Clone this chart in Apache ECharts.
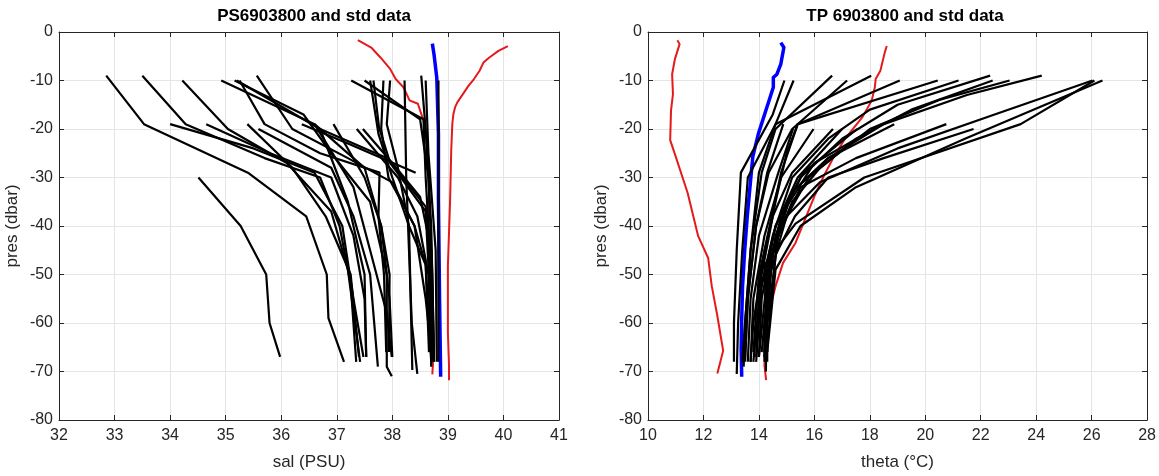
<!DOCTYPE html>
<html>
<head>
<meta charset="utf-8">
<script src="https://cdn.jsdelivr.net/npm/echarts@6/dist/echarts.min.js"></script>
<style>
  html, body { margin: 0; padding: 0; background: #fff; }
  #main { width: 1159px; height: 476px; }
</style>
</head>
<body>
<div id="main"></div>
<script>
// salinity panel: std envelope (red), mean (blue), float profiles (black)  [sal, pres]
const salStdLow = [[37.38,-1.7],[37.62,-3.2],[37.79,-5.3],[37.96,-7.6],[38.06,-9.7],[38.2,-11.4],[38.31,-14.1],[38.46,-14.8],[38.53,-17.2],[38.59,-18.9],[38.63,-24.4],[38.67,-31.2],[38.65,-38],[38.67,-48.3],[38.7,-58.5],[38.74,-66.7],[38.72,-70.6]];
const salStdHigh = [[40.08,-2.9],[39.91,-3.9],[39.74,-5.3],[39.64,-6.3],[39.57,-8],[39.47,-9.7],[39.37,-11.1],[39.27,-12.8],[39.17,-14.5],[39.13,-15.5],[39.1,-16.9],[39.08,-18.9],[39.06,-24.4],[39.04,-34.6],[39.0,-48.3],[39.0,-61.9],[39.02,-68.7],[39.02,-71.8]];
const salMean = [[38.72,-2.4],[38.75,-4.6],[38.8,-9.4],[38.83,-21],[38.83,-34.6],[38.85,-55.1],[38.87,-71.1]];
const salProfiles = [
  [[32.85,-9],[33.53,-19],[35.4,-29],[36.45,-38],[36.82,-50],[36.85,-59],[37.13,-68]],
  [[33.5,-9],[34.28,-19],[35.7,-26],[36.7,-30],[37.05,-40],[37.25,-52],[37.35,-68]],
  [[34.22,-10],[35.04,-20],[36.1,-27],[36.9,-37],[37.2,-49],[37.42,-68]],
  [[34.0,-19],[35.5,-24],[36.6,-29],[37.1,-40],[37.3,-55],[37.48,-67]],
  [[34.65,-19],[35.8,-25],[36.9,-30],[37.3,-42],[37.5,-55],[37.53,-67]],
  [[35.39,-19],[36.2,-28],[36.8,-38],[37.25,-50],[37.4,-67]],
  [[35.59,-20],[36.9,-28],[37.3,-38],[37.6,-50],[37.74,-69]],
  [[34.92,-10],[36.6,-19],[37.5,-28],[37.8,-40],[37.95,-55],[38.0,-67]],
  [[35.16,-10],[36.4,-17],[36.9,-25],[37.6,-35],[37.9,-50],[37.9,-69],[37.99,-71]],
  [[35.25,-10],[35.7,-19],[36.7,-25],[37.77,-29],[37.75,-38],[37.85,-50],[37.89,-66]],
  [[35.56,-9],[36.2,-20],[37.2,-26],[38.0,-31],[38.4,-40],[38.6,-48],[38.66,-66]],
  [[36.37,-19],[37.2,-23],[38.42,-29]],
  [[36.94,-19],[37.5,-30],[37.8,-40],[37.95,-50],[37.94,-66]],
  [[37.36,-20],[38.1,-30],[38.45,-38],[38.65,-50],[38.7,-67]],
  [[37.47,-20],[38.0,-27],[38.5,-34],[38.7,-45],[38.75,-68]],
  [[37.26,-10],[38.56,-18],[38.6,-30],[38.7,-50],[38.72,-67]],
  [[37.5,-10],[38.5,-18],[38.65,-30],[38.72,-50],[38.75,-68]],
  [[37.6,-10],[37.75,-21],[38.0,-30],[38.3,-40],[38.6,-48],[38.7,-68]],
  [[37.66,-10],[37.76,-19.6],[37.96,-27],[38.6,-37],[38.68,-55],[38.7,-69]],
  [[37.84,-10],[37.8,-20],[37.93,-30],[38.4,-40],[38.6,-55],[38.72,-68]],
  [[37.96,-10],[37.9,-19],[38.1,-28],[38.3,-40],[38.33,-55],[38.36,-69.7]],
  [[38.22,-10],[38.25,-30],[38.3,-45],[38.35,-60],[38.45,-70.5]],
  [[38.52,-9],[38.6,-20],[38.7,-40],[38.75,-67]],
  [[38.6,-10],[38.65,-25],[38.78,-45],[38.8,-68]],
  [[38.83,-10],[38.83,-40],[38.83,-68]],
  [[34.51,-30],[35.27,-40],[35.73,-50],[35.79,-60],[35.98,-67]],
  [[35.2,-10],[36.7,-20],[37.9,-26],[38.6,-36],[38.68,-50],[38.7,-67]],
  [[36.6,-19],[37.3,-32],[37.6,-45],[37.9,-58],[37.99,-67]],
  [[36.7,-20],[37.2,-35],[37.5,-50],[37.53,-67]]
];

// temperature panel  [theta, pres]
const thetaStdLow = [[11.06,-1.7],[11.14,-2.5],[10.97,-5.6],[10.87,-8.7],[10.9,-12.8],[10.83,-16.2],[10.8,-22.3],[11.0,-25.7],[11.43,-33.2],[11.81,-42.1],[12.17,-46.6],[12.3,-52.4],[12.5,-58.5],[12.71,-65.7],[12.61,-68],[12.5,-70.4]];
const thetaStdHigh = [[18.61,-2.9],[18.54,-4.2],[18.38,-8],[18.21,-9.7],[18.18,-11.4],[18.07,-14.1],[17.74,-17.5],[17.4,-19.9],[17.07,-22.3],[16.67,-26.1],[16.33,-29.8],[16.0,-33.9],[15.66,-38.7],[15.32,-43.5],[14.87,-47.6],[14.6,-52.4],[14.39,-57.1],[14.26,-61.9],[14.2,-68.7],[14.26,-71.8]];
const thetaMean = [[14.79,-2.2],[14.9,-3.2],[14.79,-6.6],[14.65,-8.7],[14.52,-9.4],[14.52,-11.4],[14.25,-16.2],[13.98,-21],[13.78,-25.7],[13.69,-31.2],[13.58,-38],[13.49,-44.8],[13.41,-52.4],[13.38,-59.2],[13.36,-65.3],[13.38,-71.1]];
const thetaProfiles = [
  [[14.92,-10],[14.5,-17],[13.35,-29],[13.2,-45],[13.1,-60],[13.1,-68]],
  [[15.25,-10],[14.6,-19],[13.6,-30],[13.4,-45],[13.25,-60],[13.2,-70.5]],
  [[16.64,-9],[14.6,-20],[14.1,-29],[13.7,-45],[13.5,-60],[13.4,-68]],
  [[17.18,-10],[15.2,-20],[14.35,-29],[13.9,-40],[13.6,-55],[13.5,-68]],
  [[18.05,-9],[14.6,-19],[14.0,-29],[13.7,-45],[13.5,-60],[13.45,-69]],
  [[19.08,-10],[15.4,-19],[14.8,-29],[14.2,-45],[13.8,-60],[13.7,-68]],
  [[20.45,-10],[15.4,-19],[15.0,-25],[14.6,-35],[14.1,-50],[13.8,-68]],
  [[21.2,-10],[18.0,-16],[16.5,-22],[15.2,-30],[14.5,-42],[14.0,-55],[13.9,-67]],
  [[22.34,-9],[19.0,-15],[17.0,-22],[15.5,-30],[14.6,-40],[14.1,-55],[14.0,-67]],
  [[22.43,-10],[19.5,-16],[17.5,-22],[15.8,-30],[14.8,-40],[14.3,-50],[14.2,-66]],
  [[23.04,-10],[20.5,-14],[18.0,-20],[16.2,-28],[15.2,-35],[14.5,-45],[14.2,-60],[14.2,-68]],
  [[24.2,-9],[21.5,-13],[18.5,-19],[16.5,-26],[15.2,-33],[14.6,-42],[14.3,-55],[14.25,-70]],
  [[26.03,-10],[22.5,-17],[19.0,-24],[16.2,-31],[15.0,-38],[14.4,-50],[14.2,-67]],
  [[26.39,-10],[21.43,-22],[17.5,-32],[15.5,-40],[14.6,-49],[14.3,-66]],
  [[26.1,-10],[23.44,-19],[17.8,-30],[15.32,-39.5],[14.2,-48],[14.3,-66]],
  [[14.88,-19],[14.3,-29],[13.9,-40],[13.6,-55],[13.5,-67]],
  [[15.23,-20],[14.7,-29],[14.0,-42],[13.7,-55],[13.6,-68]],
  [[15.97,-20],[14.8,-30],[14.2,-42],[13.8,-55],[13.7,-68]],
  [[16.67,-20],[15.2,-29],[14.5,-38],[14.0,-50],[13.8,-66]],
  [[17.0,-20],[15.4,-30],[14.6,-40],[14.1,-52],[13.9,-68]],
  [[17.54,-20],[15.6,-29],[14.8,-38],[14.3,-50],[14.0,-67]],
  [[18.44,-19],[16.0,-27],[15.0,-36],[14.4,-48],[14.1,-66]],
  [[18.88,-19],[16.5,-26],[15.2,-33],[14.5,-45],[14.2,-67]],
  [[20.76,-19],[17.5,-26],[15.5,-32],[14.7,-42],[14.3,-60],[14.3,-68]],
  [[21.74,-20],[18.5,-26],[16.5,-30],[15.3,-38],[14.6,-46],[14.3,-65]]
];

const salTicks = { min: 32, max: 41, interval: 1 };
const thetaTicks = { min: 10, max: 28, interval: 2 };
const presTicks = { min: -80, max: 0, interval: 10 };

const FONT = 'Arial, "Liberation Sans", Helvetica, sans-serif';
const INK = '#262626';
const GRID_LINE = '#e5e5e5';

function bottomAxis(gridIndex, t, name) {
  return {
    type: 'value', gridIndex, position: 'bottom',
    min: t.min, max: t.max, interval: t.interval,
    name, nameLocation: 'middle', nameGap: 34,
    nameTextStyle: { fontFamily: FONT, fontSize: 17, color: INK },
    axisLine: { show: true, onZero: false, lineStyle: { color: INK, width: 1 } },
    axisTick: { show: true, inside: true, length: 5, lineStyle: { color: INK } },
    axisLabel: { fontFamily: FONT, fontSize: 16, color: INK, margin: 8 },
    splitLine: { show: true, lineStyle: { color: GRID_LINE, width: 1 } }
  };
}
function topAxis(gridIndex, t) {
  return {
    type: 'value', gridIndex, position: 'top',
    min: t.min, max: t.max, interval: t.interval,
    axisLine: { show: true, onZero: false, lineStyle: { color: INK, width: 1 } },
    axisTick: { show: true, inside: true, length: 5, lineStyle: { color: INK } },
    axisLabel: { show: false },
    splitLine: { show: false }
  };
}
function leftAxis(gridIndex) {
  return {
    type: 'value', gridIndex, position: 'left',
    min: presTicks.min, max: presTicks.max, interval: presTicks.interval,
    name: 'pres (dbar)', nameLocation: 'middle', nameGap: 38, nameRotate: 90,
    nameTextStyle: { fontFamily: FONT, fontSize: 17, color: INK },
    axisLine: { show: true, onZero: false, lineStyle: { color: INK, width: 1 } },
    axisTick: { show: true, inside: true, length: 5, lineStyle: { color: INK } },
    axisLabel: { fontFamily: FONT, fontSize: 16, color: INK, margin: 6 },
    splitLine: { show: true, lineStyle: { color: GRID_LINE, width: 1 } }
  };
}
function rightAxis(gridIndex) {
  return {
    type: 'value', gridIndex, position: 'right',
    min: presTicks.min, max: presTicks.max, interval: presTicks.interval,
    axisLine: { show: true, onZero: false, lineStyle: { color: INK, width: 1 } },
    axisTick: { show: true, inside: true, length: 5, lineStyle: { color: INK } },
    axisLabel: { show: false },
    splitLine: { show: false }
  };
}

function line(data, xi, yi, color, width, z) {
  return {
    type: 'line', data, xAxisIndex: xi, yAxisIndex: yi,
    showSymbol: false, symbol: 'none', animation: false, silent: true,
    lineStyle: { color, width, join: 'round' }, z
  };
}

const series = [];
// left panel uses xAxis 0 / yAxis 0, right panel xAxis 2 / yAxis 2
series.push(line(salStdLow, 0, 0, '#e41a1c', 2, 2));
series.push(line(salStdHigh, 0, 0, '#e41a1c', 2, 2));
series.push(line(salMean, 0, 0, '#0000ff', 3.5, 3));
salProfiles.forEach(p => series.push(line(p, 0, 0, '#000', 2.2, 4)));

series.push(line(thetaStdLow, 2, 2, '#e41a1c', 2, 2));
series.push(line(thetaStdHigh, 2, 2, '#e41a1c', 2, 2));
series.push(line(thetaMean, 2, 2, '#0000ff', 3.5, 3));
thetaProfiles.forEach(p => series.push(line(p, 2, 2, '#000', 2.2, 4)));

const chart = echarts.init(document.getElementById('main'), null, { renderer: 'canvas' });
chart.setOption({
  backgroundColor: '#fff',
  animation: false,
  title: [
    { text: 'PS6903800 and std data', left: 309, top: 3, textAlign: 'center',
      textStyle: { fontFamily: FONT, fontSize: 17, fontWeight: 'bold', color: '#000' } },
    { text: 'TP 6903800 and std data', left: 900, top: 3, textAlign: 'center',
      textStyle: { fontFamily: FONT, fontSize: 17, fontWeight: 'bold', color: '#000' } }
  ],
  grid: [
    { left: 59, top: 32, width: 500, height: 391 },
    { left: 648, top: 32, width: 504, height: 391 }
  ],
  xAxis: [
    bottomAxis(0, salTicks, 'sal (PSU)'),
    topAxis(0, salTicks),
    bottomAxis(1, thetaTicks, 'theta (°C)'),
    topAxis(1, thetaTicks)
  ],
  yAxis: [
    leftAxis(0), rightAxis(0), leftAxis(1), rightAxis(1)
  ],
  series
});
</script>
</body>
</html>
